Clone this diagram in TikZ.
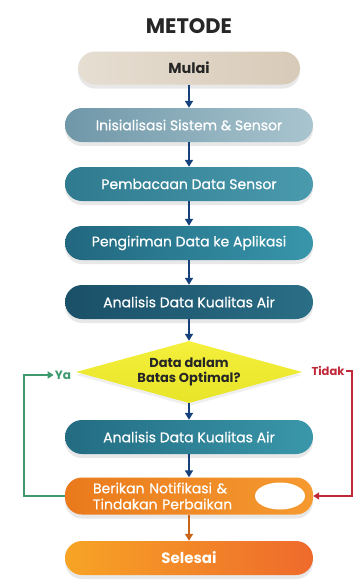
\documentclass[tikz,border=0pt]{standalone}
\usepackage{fontspec}
\setmainfont{Poppins}
\newfontfamily\medfont[FakeBold=0.5]{Poppins}
\usetikzlibrary{shapes.geometric,arrows.meta,shadows}
\definecolor{navy}{HTML}{16407A}
\definecolor{yagreen}{HTML}{3E9A6E}
\definecolor{tidakred}{HTML}{C0283A}
\definecolor{orarrow}{HTML}{C8651A}
\definecolor{mulaiL}{HTML}{E6DED2}
\definecolor{mulaiR}{HTML}{D8CAB8}
\definecolor{initL}{RGB}{111,151,168}
\definecolor{initR}{RGB}{169,197,207}
\definecolor{readL}{RGB}{47,122,142}
\definecolor{readR}{RGB}{74,154,174}
\definecolor{sendL}{RGB}{33,103,127}
\definecolor{sendR}{RGB}{56,150,171}
\definecolor{analL}{RGB}{26,80,104}
\definecolor{analR}{RGB}{42,110,134}
\definecolor{decT}{RGB}{244,240,60}
\definecolor{decB}{RGB}{232,228,40}
\definecolor{anaL}{RGB}{35,108,130}
\definecolor{anaR}{RGB}{58,151,170}
\definecolor{notL}{RGB}{234,122,28}
\definecolor{notR}{RGB}{245,154,48}
\definecolor{endL}{RGB}{247,164,37}
\definecolor{endR}{RGB}{238,106,44}
\begin{document}
\begin{tikzpicture}[x=1pt,y=-1pt,
  box/.style={rectangle, rounded corners=17pt, minimum width=248pt, minimum height=34pt,
    text=white, font=\medfont\fontsize{14}{16}\selectfont, inner sep=0pt,
    drop shadow={opacity=0.18, shadow xshift=0pt, shadow yshift=-4pt}},
  flow/.style={draw=navy, line width=1.6pt, -{Triangle[width=8pt,length=7pt]}},
  back/.style={line width=1.5pt, -{Triangle[width=7pt,length=6pt]}}
]
\useasboundingbox (0,0) rectangle (359,582);
\fill[white] (0,0) rectangle (359,582);

\node[font=\bfseries\fontsize{21}{24}\selectfont, text=black!85] (title) at (189,26) {METODE};

\node[box, minimum width=222pt, minimum height=33pt, left color=mulaiL, right color=mulaiR, text=black!85,
  font=\bfseries\fontsize{14.5}{16}\selectfont] (start) at (189,68) {Mulai};
\node[box, left color=initL, right color=initR] (init) at (189,125) {Inisialisasi Sistem \& Sensor};
\node[box, left color=readL, right color=readR] (read) at (189,184) {Pembacaan Data Sensor};
\node[box, left color=sendL, right color=sendR] (send) at (189,243) {Pengiriman Data ke Aplikasi};
\node[box, left color=analL, right color=analR] (anal) at (189,302) {Analisis Data Kualitas Air};

\node[diamond, aspect=3.65, minimum width=226pt, minimum height=62pt, inner sep=0pt,
  top color=decT, bottom color=decB,
  drop shadow={opacity=0.12, shadow xshift=0pt, shadow yshift=-3pt},
  align=center, text=black!85, font=\bfseries\fontsize{13}{15.5}\selectfont] (dec) at (189,372) {Data dalam\\Batas Optimal?};

\node[box, left color=anaL, right color=anaR] (anal2) at (189,437) {Analisis Data Kualitas Air};

\node[box, minimum height=37pt, left color=notL, right color=notR,
  text width=192pt, align=left, inner xsep=28pt] (notif) at (189,496) {Berikan Notifikasi \&\\Tindakan Perbaikan};
\node[ellipse, fill=white, minimum width=50pt, minimum height=27pt, inner sep=0pt] (blob) at (280,496) {};

\node[box, left color=endL, right color=endR,
  font=\bfseries\fontsize{15}{17}\selectfont] (end) at (189,558) {Selesai};

\draw[flow] (start) -- (init);
\draw[flow] (init) -- (read);
\draw[flow] (read) -- (send);
\draw[flow] (send) -- (anal);
\draw[flow] (anal) -- (dec.north);
\draw[flow] (dec.south) -- (anal2);
\draw[flow] (anal2) -- (notif);
\draw[flow, draw=orarrow] (notif) -- (end);

\node[text=yagreen, font=\bfseries\fontsize{12}{14}\selectfont, inner sep=1pt] (ya) at (63,375) {Ya};
\coordinate (gA) at (24,496);
\coordinate (gB) at (24,375);
\draw[back, draw=yagreen] (notif.west) -- (gA) -- (gB) -- (ya.west);

\node[text=tidakred, font=\bfseries\fontsize{11.5}{14}\selectfont, inner sep=1pt] (tidak) at (328,371) {Tidak};
\coordinate (rA) at (352,371);
\coordinate (rB) at (352,496);
\draw[back, draw=tidakred] (tidak.east) -- (rA) -- (rB) -- (notif.east);
\end{tikzpicture}
\end{document}
